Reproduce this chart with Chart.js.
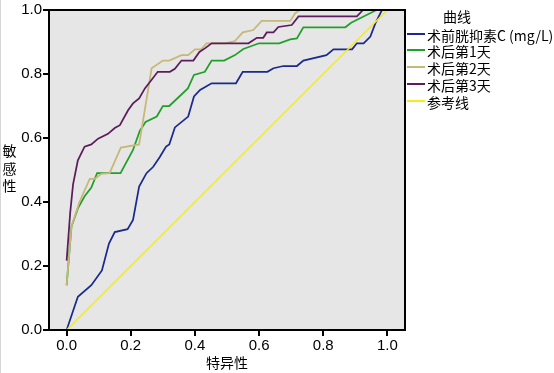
<!DOCTYPE html>
<html>
<head>
<meta charset="utf-8">
<script src="https://cdn.jsdelivr.net/npm/chart.js@4"></script>
<style>
  html, body { margin: 0; padding: 0; background: #fff; }
  #wrap { position: relative; width: 554px; height: 373px; overflow: hidden; }
  #edge { position: absolute; left: 0; top: 0; width: 1px; height: 373px; background: #d6d6d6; }
  #ytitle { position: absolute; left: 2.5px; top: 144px; writing-mode: vertical-rl; text-orientation: upright;
            font: 14px 'Noto Sans CJK SC', sans-serif; line-height: 14px; letter-spacing: 3.25px; color: #000; }
  #legTitle { position: absolute; left: 443px; top: 7px; font: 14px 'Noto Sans CJK SC', sans-serif; line-height: 18px; color: #000; white-space: nowrap; }
  .legRow { position: absolute; left: 407px; height: 17px; display: flex; align-items: center; white-space: nowrap;
            font: 14px 'Noto Sans CJK SC', sans-serif; line-height: 17px; color: #000; }
  .legSw { width: 18px; height: 2px; margin-right: 2px; position: relative; top: -1.5px; }
</style>
</head>
<body>
<div id="wrap">
  <canvas id="c" width="554" height="373"></canvas>
  <div id="edge"></div>
  <div id="ytitle"></div>
  <div id="legTitle"></div>
  <div id="legend"></div>
</div>
<script>
// ---- data ----
const seriesNames = ['术前胱抑素C (mg/L)', '术后第1天', '术后第2天', '术后第3天', '参考线'];
const legendTitle = '曲线';
const xTitle = '特异性';
const yTitle = '敏感性';
const tickValues = [0, 0.2, 0.4, 0.6, 0.8, 1.0];
const tickLabels = ['0.0', '0.2', '0.4', '0.6', '0.8', '1.0'];

const cysX = [0, 0.035, 0.077, 0.11, 0.132, 0.15, 0.19, 0.207, 0.226, 0.249, 0.27, 0.29, 0.31, 0.32, 0.3375, 0.379, 0.397, 0.416, 0.452, 0.528, 0.549, 0.626, 0.645, 0.676, 0.718, 0.738, 0.81, 0.832, 0.89, 0.905, 0.926, 0.947, 0.9625, 0.983, 1.0];
const cysY = [0, 0.104, 0.14, 0.186, 0.27, 0.306, 0.315, 0.344, 0.448, 0.49, 0.51, 0.54, 0.573, 0.58, 0.633, 0.667, 0.73, 0.75, 0.771, 0.771, 0.807, 0.807, 0.818, 0.825, 0.825, 0.842, 0.859, 0.877, 0.877, 0.896, 0.896, 0.917, 0.958, 1.0, 1.0];

const day1X = [0, 0.015, 0.035, 0.056, 0.077, 0.095, 0.168, 0.207, 0.228, 0.246, 0.281, 0.30, 0.32, 0.378, 0.397, 0.431, 0.452, 0.491, 0.525, 0.551, 0.60, 0.663, 0.697, 0.718, 0.738, 0.869, 0.887, 0.966, 1.0];
const day1Y = [0.14, 0.323, 0.38, 0.418, 0.445, 0.49, 0.49, 0.5625, 0.622, 0.65, 0.667, 0.70, 0.70, 0.755, 0.797, 0.807, 0.842, 0.842, 0.859, 0.878, 0.896, 0.896, 0.908, 0.911, 0.946, 0.946, 0.96, 1.0, 1.0];

const day2X = [0, 0.015, 0.04, 0.072, 0.0875, 0.108, 0.134, 0.169, 0.226, 0.265, 0.30, 0.32, 0.358, 0.379, 0.40, 0.42, 0.436, 0.494, 0.525, 0.549, 0.582, 0.608, 0.697, 0.7125, 0.728, 1.0];
const day2Y = [0.14, 0.323, 0.40, 0.472, 0.472, 0.488, 0.49, 0.57, 0.58, 0.818, 0.842, 0.842, 0.859, 0.859, 0.877, 0.877, 0.896, 0.896, 0.903, 0.93, 0.9375, 0.966, 0.966, 0.99, 1.0, 1.0];

const day3X = [0, 0.011, 0.02, 0.035, 0.056, 0.077, 0.098, 0.129, 0.15, 0.166, 0.192, 0.207, 0.226, 0.244, 0.262, 0.284, 0.322, 0.3375, 0.358, 0.395, 0.414, 0.431, 0.452, 0.567, 0.593, 0.613, 0.624, 0.645, 0.66, 0.702, 0.723, 0.905, 0.924, 1.0];
const day3Y = [0.217, 0.365, 0.455, 0.53, 0.573, 0.58, 0.598, 0.613, 0.631, 0.64, 0.6875, 0.708, 0.724, 0.755, 0.778, 0.807, 0.807, 0.816, 0.842, 0.842, 0.869, 0.88, 0.896, 0.896, 0.913, 0.913, 0.93, 0.93, 0.947, 0.953, 0.98, 0.98, 1.0, 1.0];

const refX = [0, 1];
const refY = [0, 1];

const seriesColors = ['#1b2a8c', '#20a02a', '#c6b877', '#5c1d5c', '#f4ec1e'];

// ---- build ----
const xs = [cysX, day1X, day2X, day3X, refX];
const ys = [cysY, day1Y, day2Y, day3Y, refY];

const datasets = seriesNames.map((name, i) => ({
  label: name,
  data: xs[i].map((x, k) => ({ x: x, y: ys[i][k] })),
  borderColor: seriesColors[i],
  backgroundColor: seriesColors[i],
  borderWidth: i === 4 ? 1.5 : 1.75,
  pointRadius: 0,
  tension: 0,
  fill: false,
  showLine: true,
  clip: false,
  order: 5 - i
}));

const frame = {
  id: 'frame',
  beforeDraw(chart) {
    const { ctx, chartArea: a } = chart;
    ctx.save();
    ctx.fillStyle = '#fff';
    ctx.fillRect(0, 0, chart.width, chart.height);
    ctx.fillStyle = '#e6e6e6';
    ctx.fillRect(a.left, a.top, a.right - a.left, a.bottom - a.top);
    ctx.restore();
  },
  afterDraw(chart) {
    const { ctx, chartArea: a } = chart;
    ctx.save();
    ctx.strokeStyle = '#000';
    ctx.lineWidth = 2;
    ctx.strokeRect(a.left, a.top, a.right - a.left, a.bottom - a.top);
    ctx.restore();
  }
};

const tickFont = { family: "'Liberation Sans', Arial, sans-serif", size: 15 };
const cjkFont = { family: "'Noto Sans CJK SC', sans-serif", size: 14 };

function axis(extra) {
  return Object.assign({
    type: 'linear',
    afterBuildTicks: s => { s.ticks = tickValues.map(v => ({ value: v })); },
    ticks: {
      font: tickFont, color: '#000', padding: 1, autoSkip: false, maxRotation: 0,
      callback: v => tickLabels[tickValues.indexOf(v)]
    },
    grid: { drawOnChartArea: false, drawTicks: true, tickLength: 6, color: '#000', lineWidth: 2 },
    border: { display: true, color: '#000', width: 2 }
  }, extra);
}

new Chart(document.getElementById('c'), {
  type: 'scatter',
  data: { datasets },
  options: {
    responsive: false,
    animation: false,
    devicePixelRatio: 1,
    layout: { padding: { left: 0, top: 10, right: 149, bottom: 0 } },
    plugins: { legend: { display: false }, tooltip: { enabled: false } },
    scales: {
      x: axis({
        min: -0.055, max: 1.055,
        title: { display: true, text: xTitle, font: cjkFont, color: '#000', padding: { top: 0, bottom: 2 } },
        afterFit: s => { s.height = 43; }
      }),
      y: axis({
        min: 0, max: 1,
        afterFit: s => { s.width = 49; }
      })
    }
  },
  plugins: [frame]
});

// HTML text: y title and legend
document.getElementById('ytitle').textContent = yTitle;
document.getElementById('legTitle').textContent = legendTitle;
const leg = document.getElementById('legend');
seriesNames.forEach((name, i) => {
  const row = document.createElement('div');
  row.className = 'legRow';
  row.style.top = (26.5 + i * 16.9) + 'px';
  const sw = document.createElement('span');
  sw.className = 'legSw';
  sw.style.background = seriesColors[i];
  const t = document.createElement('span');
  t.textContent = name;
  row.appendChild(sw);
  row.appendChild(t);
  leg.appendChild(row);
});
</script>
</body>
</html>
